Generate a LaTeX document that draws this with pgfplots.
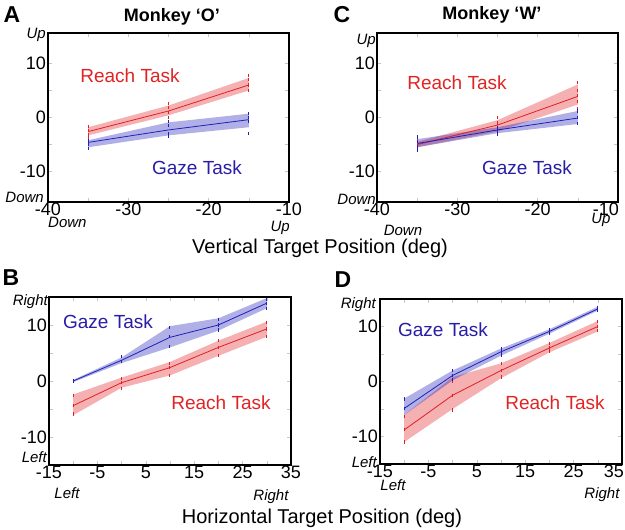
\documentclass[border=0pt]{standalone}
\usepackage{fontspec}
\setmainfont{Liberation Sans}
\usepackage{pgfplots}
\pgfplotsset{compat=1.18}
\definecolor{myred}{RGB}{225,30,35}
\definecolor{myblue}{RGB}{30,30,185}
\definecolor{txtred}{RGB}{225,35,35}
\definecolor{txtblue}{RGB}{40,30,165}
\pgfplotsset{
  panel/.style={
    scale only axis,
    axis line style={line width=1.1pt},
    tick align=inside,
    tick style={gray!45, line width=0.4pt},
    major tick length=4pt, minor tick length=4pt,
    minor tick num=1,
    tick label style={font=\fontsize{18}{20}\selectfont},
    xticklabel style={inner sep=1pt},
    yticklabel style={inner sep=2pt},
    /pgf/number format/assume math mode=true,
    clip=false,
  },
  band/.style={draw=none, fill=#1, fill opacity=0.35, forget plot},
  mline/.style={#1, line width=0.8pt, mark=none},
  pts/.style={only marks, mark=|, mark size=1.6pt, #1, mark options={line width=1pt}},
}
\newcommand{\dir}{\fontsize{15}{17}\selectfont\itshape}
\newcommand{\task}{\fontsize{19}{21}\selectfont}
\begin{document}
\begin{tikzpicture}[x=1pt,y=1pt]
\useasboundingbox (0,0) rectangle (625,530);

% ---------------- Panel A ----------------
\begin{axis}[panel, at={(48pt,328pt)}, anchor=south west, width=241pt, height=169pt,
  xmin=-40, xmax=-10, ymin=-15.6, ymax=15.6,
  xtick={-40,-30,-20,-10}, ytick={-10,0,10}]
\addplot[band=myred] coordinates {(-35,-1.8) (-25,2.2) (-15,7.3) (-15,5.0) (-25,0.4) (-35,-3.3)} -- cycle;
\addplot[band=myblue] coordinates {(-35,-4.2) (-25,-0.9) (-15,0.7) (-15,-1.8) (-25,-3.3) (-35,-5.5)} -- cycle;
\addplot[mline=myred] coordinates {(-35,-2.6) (-25,1.2) (-15,6.0)};
\addplot[mline=myblue] coordinates {(-35,-4.6) (-25,-2.3) (-15,-0.4)};
\addplot[pts=myred] coordinates {(-35,-1.6) (-35,-2.4) (-35,-3.2) (-35,-3.8) (-25,2.6) (-25,1.8) (-25,0.9) (-25,0.0) (-15,7.8) (-15,7.0) (-15,6.0) (-15,5.0)};
\addplot[pts=myblue] coordinates {(-35,-4.3) (-35,-5.0) (-35,-5.7) (-25,-0.7) (-25,-1.5) (-25,-3.0) (-25,-3.5) (-15,0.7) (-15,0.0) (-15,-0.7) (-15,-3.0)};
\end{axis}

% ---------------- Panel C ----------------
\begin{axis}[panel, at={(377pt,328pt)}, anchor=south west, width=241pt, height=169pt,
  xmin=-40, xmax=-10, ymin=-15.6, ymax=15.6,
  xtick={-40,-30,-20,-10}, ytick={-10,0,10},
  xticklabels={-40,-30,-20,\hspace*{-24pt}-10}]
\addplot[band=myred] coordinates {(-35,-4.5) (-25,-0.5) (-15,6.1) (-15,2.4) (-25,-2.6) (-35,-5.5)} -- cycle;
\addplot[band=myblue] coordinates {(-35,-4.0) (-25,-1.8) (-15,1.2) (-15,-1.2) (-25,-2.9) (-35,-5.5)} -- cycle;
\addplot[mline=myred] coordinates {(-35,-5.0) (-25,-1.4) (-15,3.9)};
\addplot[mline=myblue] coordinates {(-35,-4.8) (-25,-2.3) (-15,-0.1)};
\addplot[pts=myred] coordinates {(-35,-4.2) (-35,-5.0) (-35,-5.8) (-25,0.0) (-25,-1.0) (-25,-2.2) (-25,-3.2) (-15,6.5) (-15,5.0) (-15,4.0) (-15,3.0) (-15,1.6)};
\addplot[pts=myblue] coordinates {(-35,-3.6) (-35,-4.5) (-35,-5.3) (-35,-6.0) (-25,-1.8) (-25,-2.5) (-25,-3.2) (-15,1.2) (-15,0.0) (-15,-1.1)};
\end{axis}

% ---------------- Panel B ----------------
\begin{axis}[panel, at={(49pt,65pt)}, anchor=south west, width=242pt, height=168pt,
  xmin=-15, xmax=35, ymin=-15, ymax=15,
  xtick={-15,-5,5,15,25,35}, ytick={-10,0,10}]
\addplot[band=myred] coordinates {(-10,-2.4) (0,0.6) (10,3.4) (20,7.2) (30,10.6) (30,7.9) (20,4.5) (10,1.0) (0,-1.2) (-10,-6.1)} -- cycle;
\addplot[band=myblue] coordinates {(-10,0.2) (0,4.2) (10,9.8) (20,11.2) (30,14.8) (30,13.0) (20,9.0) (10,6.0) (0,3.2) (-10,-0.2)} -- cycle;
\addplot[mline=myred] coordinates {(-10,-4.4) (0,-0.3) (10,2.4) (20,6.0) (30,9.3)};
\addplot[mline=myblue] coordinates {(-10,0) (0,3.7) (10,7.8) (20,10.0) (30,13.9)};
\addplot[pts=myred] coordinates {(-10,-2.6) (-10,-4.4) (-10,-5.9) (0,0.4) (0,-0.3) (0,-1.4) (10,3.1) (10,2.4) (10,1.0) (20,7.3) (20,6.0) (20,4.6) (30,10.5) (30,9.3) (30,8.0)};
\addplot[pts=myblue] coordinates {(-10,0.1) (-10,-0.1) (0,4.4) (0,3.5) (10,9.6) (10,8.0) (10,6.2) (20,11.0) (20,10.0) (20,9.1) (30,14.6) (30,13.9) (30,13.0)};
\end{axis}

% ---------------- Panel D ----------------
\begin{axis}[panel, at={(380pt,66pt)}, anchor=south west, width=242pt, height=165pt,
  xmin=-15, xmax=35, ymin=-15, ymax=15,
  xtick={-15,-5,5,15,25,35}, ytick={-10,0,10},
  xticklabels={-15,-5,5,15,25,\hspace*{-16pt}35}]
\addplot[band=myred] coordinates {(-10,-6.1) (0,0.8) (10,3.3) (20,7.0) (30,11.0) (30,9.1) (20,5.3) (10,0.6) (0,-5.0) (-10,-11.0)} -- cycle;
\addplot[band=myblue] coordinates {(-10,-3.1) (0,2.0) (10,6.0) (20,9.5) (30,13.6) (30,12.9) (20,8.7) (10,4.7) (0,0.2) (-10,-6.1)} -- cycle;
\addplot[mline=myred] coordinates {(-10,-8.8) (0,-2.5) (10,2.0) (20,6.1) (30,10.0)};
\addplot[mline=myblue] coordinates {(-10,-4.9) (0,1.1) (10,5.4) (20,9.1) (30,13.2)};
\addplot[pts=myred] coordinates {(-10,-6.3) (-10,-8.8) (-10,-11.0) (0,0.0) (0,-2.5) (0,-5.2) (10,3.2) (10,2.0) (10,0.8) (20,6.9) (20,6.1) (20,5.4) (30,10.9) (30,10.0) (30,9.2)};
\addplot[pts=myblue] coordinates {(-10,-3.2) (-10,-4.9) (0,2.0) (0,1.1) (0,0.3) (10,6.0) (10,5.4) (10,4.8) (20,9.5) (20,9.1) (20,8.8) (30,13.5) (30,13.0)};
\end{axis}

% ---------------- Labels ----------------
\node[font=\fontsize{23}{25}\selectfont\bfseries] at (12,515) {A};
\node[font=\fontsize{23}{25}\selectfont\bfseries] at (342,515) {C};
\node[font=\fontsize{23}{25}\selectfont\bfseries] at (11,252) {B};
\node[font=\fontsize{23}{25}\selectfont\bfseries] at (343,250) {D};
\node[font=\fontsize{18}{20}\selectfont\bfseries] at (172,513) {Monkey ‘O’};
\node[font=\fontsize{18}{20}\selectfont\bfseries] at (492,515) {Monkey ‘W’};
\node[font=\fontsize{20}{22}\selectfont] at (320,282) {Vertical Target Position (deg)};
\node[font=\fontsize{20}{22}\selectfont] at (322,12) {Horizontal Target Position (deg)};

% direction labels A
\node[font=\dir, anchor=east, inner sep=0pt] at (46,495) {Up};
\node[font=\dir, anchor=east, inner sep=0pt] at (44,333) {Down};
\node[font=\dir, anchor=west, inner sep=0pt] at (48,308) {Down};
\node[font=\dir, anchor=east, inner sep=0pt] at (290,302) {Up};
% C
\node[font=\dir, anchor=east, inner sep=0pt] at (376,489) {Up};
\node[font=\dir, anchor=east, inner sep=0pt] at (376,331) {Down};
\node[font=\dir, inner sep=0pt] at (403,300) {Down};
\node[font=\dir, inner sep=0pt] at (601,310) {Up};
% B
\node[font=\dir, anchor=east, inner sep=0pt] at (48,228) {Right};
\node[font=\dir, anchor=east, inner sep=0pt] at (47,73) {Left};
\node[font=\dir, inner sep=0pt] at (67,37) {Left};
\node[font=\dir, inner sep=0pt] at (271,33) {Right};
% D
\node[font=\dir, anchor=east, inner sep=0pt] at (376,225) {Right};
\node[font=\dir, anchor=east, inner sep=0pt] at (377,68) {Left};
\node[font=\dir, inner sep=0pt] at (393,45) {Left};
\node[font=\dir, inner sep=0pt] at (602,35) {Right};

% task labels
\node[font=\task, text=txtred] at (130,454) {Reach Task};
\node[font=\task, text=txtblue] at (197,362) {Gaze Task};
\node[font=\task, text=txtred] at (457,447) {Reach Task};
\node[font=\task, text=txtblue] at (527,362) {Gaze Task};
\node[font=\task, text=txtblue] at (108,208) {Gaze Task};
\node[font=\task, text=txtred] at (221,127) {Reach Task};
\node[font=\task, text=txtblue] at (443,200) {Gaze Task};
\node[font=\task, text=txtred] at (555,127) {Reach Task};
\end{tikzpicture}
\end{document}
